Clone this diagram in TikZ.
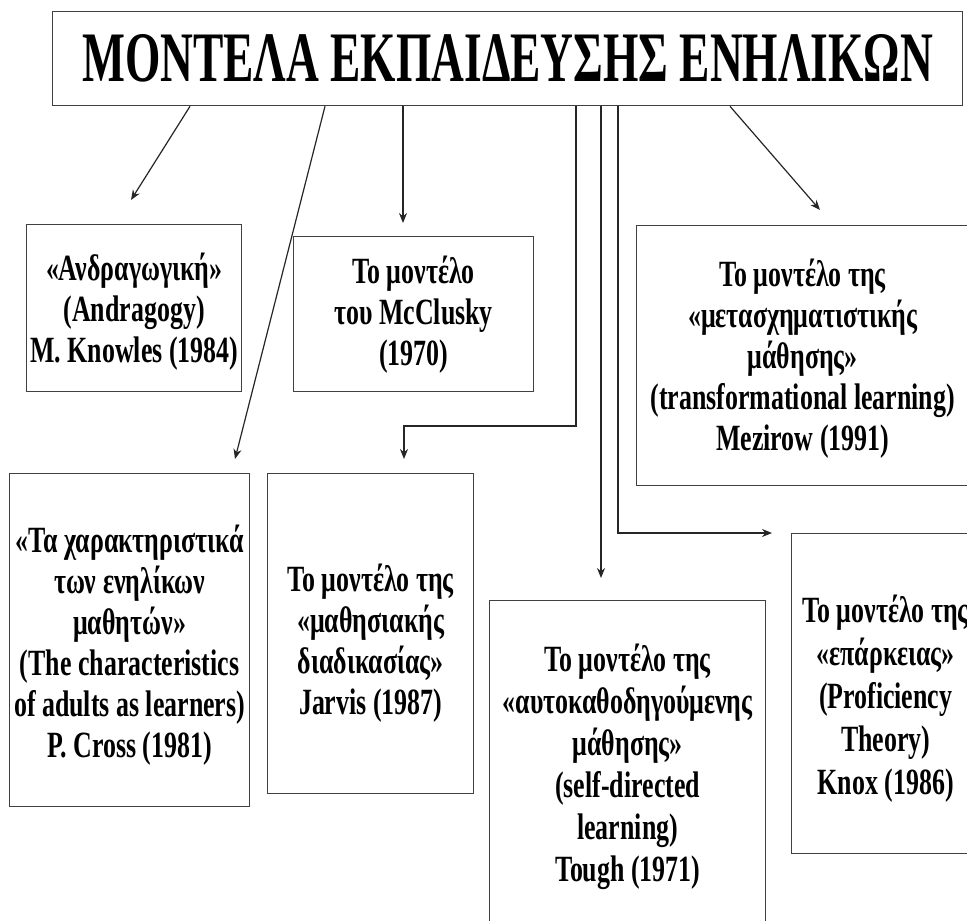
\documentclass[tikz,border=0pt]{standalone}
\usepackage{fontspec}
\newfontfamily\bodyfont{Liberation Serif}[FakeStretch=0.70]
\newfontfamily\headfont{Liberation Serif}[FakeStretch=0.64]
\usetikzlibrary{arrows.meta}
\tikzset{
  boxnode/.style={draw=black!75, line width=1.3pt, anchor=north west, inner sep=0pt},
  txt/.style={inner sep=0pt, align=center, font=\bodyfont\bfseries\fontsize{37}{41}\selectfont},
  headnode/.style={draw=black!75, line width=1.3pt, anchor=north west, inner sep=0pt,
    align=center, font=\headfont\bfseries\fontsize{71}{80}\selectfont},
  conn/.style={draw=black!85, line width=1.2pt, -{Stealth[length=10pt,width=8pt]}},
}
\begin{document}
\begin{tikzpicture}[x=1pt,y=-1pt]
\useasboundingbox (0,0) rectangle (967,921);
\fill[white] (0,0) rectangle (967,921);
\clip (0,0) rectangle (967,921);

\node[headnode, minimum width=910pt, minimum height=94pt] (title) at (52,11) {ΜΟΝΤΕΛΑ ΕΚΠΑΙΔΕΥΣΗΣ ΕΝΗΛΙΚΩΝ};

\node[boxnode, minimum width=215pt, minimum height=167pt] (A) at (26,224) {};
\node[txt] (At) at ([yshift=-4pt]A.center)
  {«Ανδραγωγική»\\(Andragogy)\\M. Knowles (1984)};
\node[boxnode, minimum width=240pt, minimum height=155pt] (M) at (293,236) {};
\node[txt] (Mt) at ([yshift=-1pt]M.center)
  {Το μοντέλο\\του McClusky\\(1970)};
\node[boxnode, minimum width=332pt, minimum height=260pt] (Z) at (636,225) {};
\node[txt] (Zt) at ([yshift=-3pt]Z.center)
  {Το μοντέλο της\\«μετασχηματιστικής\\μάθησης»\\(transformational learning)\\Mezirow (1991)};
\node[boxnode, minimum width=240pt, minimum height=333pt] (C) at (9,473) {};
\node[txt] (Ct) at ([yshift=-5pt]C.center)
  {«Τα χαρακτηριστικά\\των ενηλίκων\\μαθητών»\\(The characteristics\\of adults as learners)\\P. Cross (1981)};
\node[boxnode, minimum width=206pt, minimum height=320pt] (J) at (267,473) {};
\node[txt] (Jt) at ([yshift=-10pt]J.center)
  {Το μοντέλο της\\«μαθησιακής\\διαδικασίας»\\Jarvis (1987)};
\node[boxnode, minimum width=276pt, minimum height=330pt] (T) at (489,600) {};
\node[txt, font=\bodyfont\bfseries\fontsize{37}{42}\selectfont] (Tt) at ([yshift=-1pt]T.center)
  {Το μοντέλο της\\«αυτοκαθοδηγούμενης\\μάθησης»\\(self-directed\\learning)\\Tough (1971)};
\node[boxnode, minimum width=188pt, minimum height=320pt] (K) at (791,533) {};
\node[txt, font=\bodyfont\bfseries\fontsize{37}{43}\selectfont] (Kt) at ([yshift=-5pt]K.center)
  {Το μοντέλο της\\«επάρκειας»\\(Proficiency\\Theory)\\Knox (1986)};

\coordinate (c1) at (190,0);  \coordinate (e1) at (131,200);
\coordinate (c2) at (325,0);  \coordinate (e2) at (235,459);
\coordinate (c3) at (403,0);  \coordinate (e3) at (403,223);
\coordinate (c4) at (576,0);  \coordinate (j2) at (404,426); \coordinate (e4) at (404,459);
\coordinate (c5) at (601,0);  \coordinate (e5) at (601,578);
\coordinate (c6) at (618,0);  \coordinate (e6) at (772,533);
\coordinate (c7) at (730,0);  \coordinate (e7) at (820,210);

\draw[conn] (title.south -| c1) -- (e1);
\draw[conn] (title.south -| c2) -- (e2);
\draw[conn] (title.south -| c3) -- (e3);
\draw[conn] (title.south -| c4) |- (j2) -- (e4);
\draw[conn] (title.south -| c5) -- (e5);
\draw[conn] (title.south -| c6) |- (e6);
\draw[conn] (title.south -| c7) -- (e7);
\end{tikzpicture}
\end{document}
